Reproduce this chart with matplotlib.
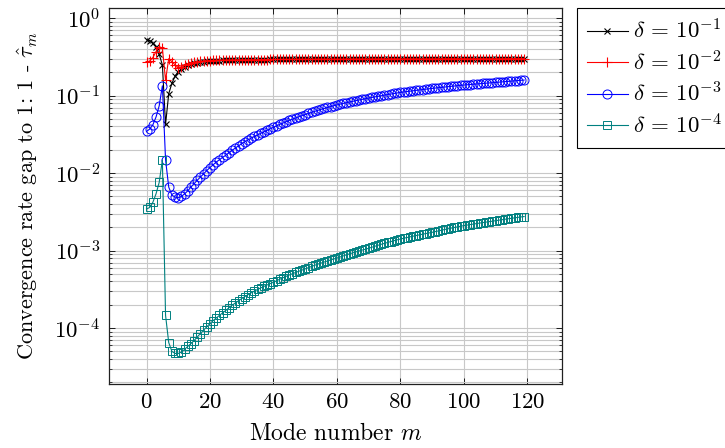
#!/usr/bin/env python3
import numpy as np
import matplotlib
matplotlib.use('Agg')
from matplotlib import pyplot as plt
import matplotlib.ticker as mticker

# --
# mode numbers
modes = np.arange(0, 120)

# delta = 1e-1
gap_d1 = [0.53, 0.51, 0.48, 0.43, 0.34, 0.25, 0.0425, 0.106, 0.144, 0.179, 0.204,
          0.222, 0.236, 0.247, 0.255, 0.262, 0.267, 0.271, 0.275, 0.278, 0.280,
          0.282, 0.283, 0.284, 0.285, 0.286, 0.287, 0.288, 0.288, 0.289, 0.289,
          0.290, 0.290, 0.291, 0.291, 0.291, 0.292, 0.292, 0.292, 0.293, 0.293,
          0.293, 0.293, 0.294, 0.294, 0.294, 0.294, 0.295, 0.295, 0.295, 0.295,
          0.295, 0.295, 0.295, 0.296, 0.296, 0.296, 0.296, 0.296, 0.296, 0.296,
          0.296, 0.296, 0.297, 0.297, 0.297, 0.297, 0.297, 0.297, 0.297, 0.297,
          0.297, 0.297, 0.297, 0.298, 0.298, 0.298, 0.298, 0.298, 0.298, 0.298,
          0.298, 0.298, 0.298, 0.298, 0.298, 0.298, 0.298, 0.298, 0.298, 0.298,
          0.298, 0.298, 0.299, 0.299, 0.299, 0.299, 0.299, 0.299, 0.299, 0.299,
          0.299, 0.299, 0.299, 0.299, 0.299, 0.299, 0.299, 0.299, 0.299, 0.299,
          0.299, 0.299, 0.299, 0.300, 0.300, 0.300, 0.300, 0.300, 0.300]

# delta = 1e-2
gap_d2 = [0.27, 0.28, 0.31, 0.37, 0.43, 0.41, 0.158, 0.30, 0.274, 0.25, 0.23,
          0.236, 0.245, 0.255, 0.262, 0.268, 0.273, 0.277, 0.280, 0.282, 0.284,
          0.285, 0.286, 0.287, 0.288, 0.288, 0.289, 0.289, 0.290, 0.290, 0.290,
          0.290, 0.290, 0.291, 0.291, 0.291, 0.292, 0.292, 0.292, 0.293, 0.293,
          0.293, 0.293, 0.294, 0.294, 0.294, 0.294, 0.295, 0.295, 0.295, 0.295,
          0.295, 0.295, 0.295, 0.296, 0.296, 0.296, 0.296, 0.296, 0.296, 0.296,
          0.296, 0.296, 0.297, 0.297, 0.297, 0.297, 0.297, 0.297, 0.297, 0.297,
          0.297, 0.297, 0.297, 0.298, 0.298, 0.298, 0.298, 0.298, 0.298, 0.298,
          0.298, 0.298, 0.298, 0.298, 0.298, 0.298, 0.298, 0.298, 0.298, 0.298,
          0.298, 0.298, 0.299, 0.299, 0.299, 0.299, 0.299, 0.299, 0.299, 0.299,
          0.299, 0.299, 0.299, 0.299, 0.299, 0.299, 0.299, 0.299, 0.299, 0.299,
          0.299, 0.299, 0.299, 0.300, 0.300, 0.300, 0.300, 0.300, 0.300]

# delta = 1e-3
gap_d3 = [0.0345, 0.0370, 0.0420, 0.0530, 0.0740, 0.134, 0.0149, 0.0066, 0.0052, 0.0049, 0.0048,
          0.0050, 0.0054, 0.0059, 0.0066, 0.0073, 0.0081, 0.0089, 0.0098, 0.0108, 0.0118,
          0.0128, 0.0139, 0.0149, 0.0160, 0.0170, 0.0184, 0.0197, 0.0211, 0.0225, 0.0240,
          0.0254, 0.0268, 0.0283, 0.0297, 0.0311, 0.0326, 0.0341, 0.0356, 0.0373, 0.0390,
          0.0408, 0.0426, 0.0443, 0.0461, 0.0479, 0.0497, 0.0515, 0.0533, 0.0551, 0.0570,
          0.0589, 0.0608, 0.0627, 0.0646, 0.0665, 0.0684, 0.0703, 0.0722, 0.0741, 0.0760,
          0.0777, 0.0794, 0.0811, 0.0828, 0.0845, 0.0862, 0.0879, 0.0896, 0.0913, 0.0930,
          0.0947, 0.0964, 0.0981, 0.0998, 0.1015, 0.1032, 0.1049, 0.1066, 0.1083, 0.1100,
          0.1114, 0.1128, 0.1142, 0.1156, 0.1170, 0.1184, 0.1198, 0.1212, 0.1226, 0.1240,
          0.1253, 0.1266, 0.1279, 0.1292, 0.1305, 0.1318, 0.1331, 0.1344, 0.1357, 0.1370,
          0.1381, 0.1392, 0.1403, 0.1414, 0.1425, 0.1436, 0.1447, 0.1458, 0.1469, 0.1480,
          0.1492, 0.1504, 0.1516, 0.1528, 0.1540, 0.1552, 0.1564, 0.1577, 0.1590]

# delta = 1e-4 (in units of 1e-4)
gap_d4 = [34.4, 36.0, 42.0, 54.0, 76.0, 148.0, 1.46, 0.65, 0.50, 0.47, 0.47,
          0.49, 0.53, 0.58, 0.63, 0.69, 0.77, 0.85, 0.94, 1.04, 1.14,
          1.25, 1.35, 1.46, 1.57, 1.69, 1.83, 1.97, 2.11, 2.25, 2.40,
          2.55, 2.70, 2.85, 3.00, 3.15, 3.30, 3.45, 3.60, 3.75, 3.90,
          4.08, 4.27, 4.46, 4.65, 4.84, 5.03, 5.22, 5.41, 5.60, 5.80,
          6.02, 6.24, 6.46, 6.68, 6.90, 7.12, 7.34, 7.56, 7.78, 8.00,
          8.27, 8.54, 8.81, 9.08, 9.35, 9.62, 9.89, 10.16, 10.43, 10.70,
          11.04, 11.38, 11.72, 12.06, 12.40, 12.74, 13.08, 13.42, 13.76, 14.10,
          14.41, 14.72, 15.03, 15.34, 15.65, 15.96, 16.27, 16.58, 16.89, 17.20,
          17.58, 17.96, 18.34, 18.72, 19.10, 19.48, 19.86, 20.24, 20.62, 21.00,
          21.33, 21.66, 21.99, 22.32, 22.65, 22.98, 23.31, 23.64, 23.97, 24.30,
          24.66, 25.02, 25.38, 25.74, 26.10, 26.46, 26.82, 27.18, 27.50]

labels = [r'$\delta\,=\,10^{-1}$', r'$\delta\,=\,10^{-2}$',
          r'$\delta\,=\,10^{-3}$', r'$\delta\,=\,10^{-4}$']
fSize = 16.5
# --

plt.rcParams['font.family'] = 'serif'
plt.rcParams['font.serif'] = ['cmr10']
plt.rcParams['mathtext.fontset'] = 'cm'
plt.rcParams['axes.formatter.use_mathtext'] = True

fig = plt.figure(figsize=(7.25, 4.48), dpi=100)
ax = fig.add_axes([0.150, 0.143, 0.625, 0.839])

ax.plot(modes, gap_d1, color='k', lw=0.8, marker='x', ms=5, mew=0.8, label=labels[0])
ax.plot(modes, gap_d2, color='red', lw=0.8, marker='+', ms=7, mew=0.8, label=labels[1])
ax.plot(modes, gap_d3, color='blue', lw=0.8, marker='o', ms=6.5, mew=0.7,
        mfc='none', label=labels[2])
ax.plot(modes, np.array(gap_d4) * 1e-4, color='teal', lw=0.8, marker='s', ms=5.5,
        mew=0.7, mfc='none', label=labels[3])

ax.set_yscale('log')
ax.set_xlim(-11.9, 130.9)
ax.set_ylim(1.9e-5, 1.35)
ax.set_xticks(np.arange(0, 121, 20))
ax.yaxis.set_major_locator(mticker.LogLocator(base=10, numticks=10))
ax.yaxis.set_minor_locator(mticker.LogLocator(base=10, subs=np.arange(2, 10), numticks=20))
ax.yaxis.set_minor_formatter(mticker.NullFormatter())

ax.grid(True, which='major', color='#c8c8c8', lw=0.8)
ax.grid(True, which='minor', axis='y', color='#c8c8c8', lw=0.8)
ax.set_axisbelow(True)

ax.tick_params(which='both', direction='in', top=True, right=True, labelsize=fSize)
ax.tick_params(which='major', length=4, width=0.6, pad=6)
ax.tick_params(which='minor', length=2.5, width=0.5)
for sp in ax.spines.values():
    sp.set_linewidth(0.9)
    sp.set_color('#202020')

ax.set_xlabel(r'Mode number $m$', fontsize=17, labelpad=8)
ax.set_ylabel(r'Convergence rate gap to 1: 1 - $\hat{\tau}_m$', fontsize=16, labelpad=10)

leg = ax.legend(loc='upper left', bbox_to_anchor=(0.796, 0.982), bbox_transform=fig.transFigure,
                borderaxespad=0, fontsize=fSize, fancybox=False, framealpha=1,
                edgecolor='k', handlelength=1.75, handletextpad=0.25, labelspacing=0.32,
                borderpad=0.45)
leg.get_frame().set_linewidth(0.8)

plt.savefig('out.png', dpi=100)
